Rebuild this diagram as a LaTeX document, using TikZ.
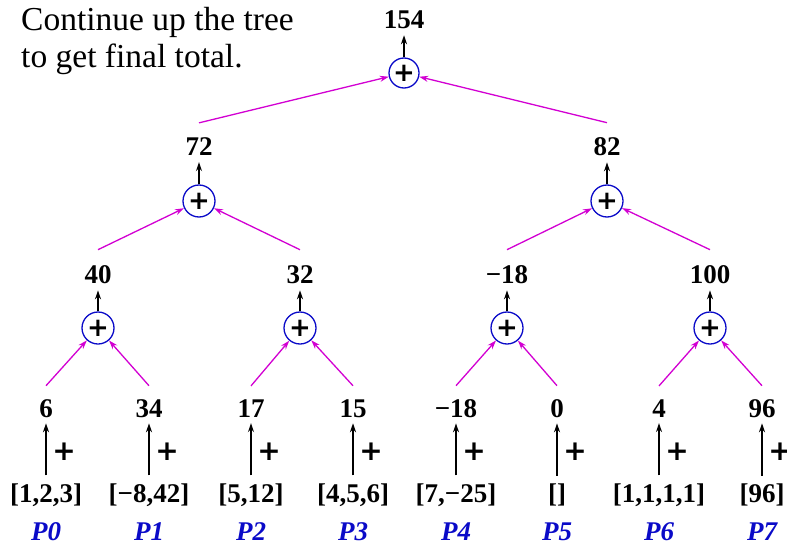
\documentclass[tikz,border=0pt]{standalone}
\usepackage{fontspec}
\setmainfont{Liberation Serif}
\newfontfamily\plusfont{DejaVu Sans}
\usetikzlibrary{arrows.meta,calc}
\definecolor{mag}{RGB}{210,0,210}
\definecolor{pblue}{RGB}{10,10,200}
\begin{document}
\begin{tikzpicture}[x=1pt,y=-1pt,
  num/.style={font=\fontsize{27}{30}\selectfont\bfseries, inner sep=0pt},
  plab/.style={font=\fontsize{27}{30}\selectfont\bfseries\itshape, text=pblue, inner sep=0pt},
  opnode/.style={circle, draw=pblue, line width=1.3pt, minimum size=32pt, inner sep=0pt, font=\plusfont\fontsize{26}{26}\selectfont\bfseries},
  up/.style={draw=black, line width=1.4pt, -{Stealth[length=9pt,width=6pt]}},
  feed/.style={draw=mag, line width=1.3pt, -{Stealth[length=9pt,width=6pt]}},
  pluslab/.style={font=\plusfont\fontsize{28}{28}\selectfont\bfseries, inner sep=0pt},
]
\useasboundingbox (0,0) rectangle (787,546);

\node[anchor=north west, align=left, font=\fontsize{33.5}{37}\selectfont, inner sep=0pt] (note) at (21,7) {Continue up the tree\\to get final total.};

% leaves
\node[num] (v0) at (46,409) {6};
\node[num] (v1) at (149,409) {34};
\node[num] (v2) at (251,409) {17};
\node[num] (v3) at (353,409) {15};
\node[num] (v4) at (456,409) {−18};
\node[num] (v5) at (557,409) {0};
\node[num] (v6) at (659,409) {4};
\node[num] (v7) at (762,409) {96};

\node[num] (l0) at (46,495) {[1,2,3]};
\node[num] (l1) at (149,495) {[−8,42]};
\node[num] (l2) at (251,495) {[5,12]};
\node[num] (l3) at (353,495) {[4,5,6]};
\node[num] (l4) at (456,495) {[7,−25]};
\node[num] (l5) at (557,495) {[]};
\node[num] (l6) at (659,495) {[1,1,1,1]};
\node[num] (l7) at (762,495) {[96]};

\node[plab] (p0) at (46,532) {P0};
\node[plab] (p1) at (149,532) {P1};
\node[plab] (p2) at (251,532) {P2};
\node[plab] (p3) at (353,532) {P3};
\node[plab] (p4) at (456,532) {P4};
\node[plab] (p5) at (557,532) {P5};
\node[plab] (p6) at (659,532) {P6};
\node[plab] (p7) at (762,532) {P7};

\foreach \i/\x in {0/46,1/149,2/251,3/353,4/456,5/557,6/659,7/762}{
  \node[pluslab] (s\i) at (\x+18,452) {+};
  \draw[up, shorten <=8pt, shorten >=5pt] (l\i.north) -- (l\i.north |- v\i.south);
}

% level 1
\node[opnode] (c1) at (98,328) {+};
\node[opnode] (c2) at (300,328) {+};
\node[opnode] (c3) at (507,328) {+};
\node[opnode] (c4) at (710,328) {+};
\node[num] (n1) at (98,275) {40};
\node[num] (n2) at (300,275) {32};
\node[num] (n3) at (507,275) {−18};
\node[num] (n4) at (710,275) {100};

\foreach \i in {1,2,3,4}{
  \draw[up, shorten >=6pt] (c\i.north) -- (c\i.north |- n\i.south);
}
\draw[feed] ($(v0.north)+(0,-14)$) -- (c1);
\draw[feed] ($(v1.north)+(0,-14)$) -- (c1);
\draw[feed] ($(v2.north)+(0,-14)$) -- (c2);
\draw[feed] ($(v3.north)+(0,-14)$) -- (c2);
\draw[feed] ($(v4.north)+(0,-14)$) -- (c3);
\draw[feed] ($(v5.north)+(0,-14)$) -- (c3);
\draw[feed] ($(v6.north)+(0,-14)$) -- (c4);
\draw[feed] ($(v7.north)+(0,-14)$) -- (c4);

% level 2
\node[opnode] (d1) at (199,201) {+};
\node[opnode] (d2) at (607,201) {+};
\node[num] (m1) at (199,147) {72};
\node[num] (m2) at (607,147) {82};
\foreach \i in {1,2}{
  \draw[up, shorten >=6pt] (d\i.north) -- (d\i.north |- m\i.south);
}
\draw[feed] ($(n1.north)+(0,-16)$) -- (d1);
\draw[feed] ($(n2.north)+(0,-16)$) -- (d1);
\draw[feed] ($(n3.north)+(0,-16)$) -- (d2);
\draw[feed] ($(n4.north)+(0,-16)$) -- (d2);

% level 3
\node[opnode, minimum size=30pt] (r) at (404,73) {+};
\node[num] (top) at (404,20) {154};
\draw[up, shorten >=6pt] (r.north) -- (r.north |- top.south);
\draw[feed] ($(m1.north)+(0,-15)$) -- (r);
\draw[feed] ($(m2.north)+(0,-15)$) -- (r);
\end{tikzpicture}
\end{document}
